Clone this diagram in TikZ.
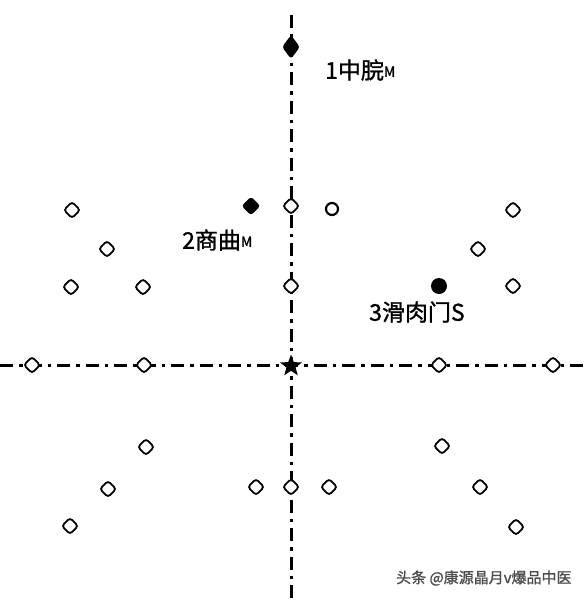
\documentclass[tikz,border=0pt]{standalone}
\usepackage{fontspec}
\newfontfamily\cjk[FakeBold=1.2]{Noto Sans CJK SC}
\usetikzlibrary{shapes.geometric}
\begin{document}
\begin{tikzpicture}[x=1pt,y=-1pt,
  axis/.style={line width=3pt,dash pattern=on 13pt off 6pt on 3.5pt off 6pt},
  hole/.style={diamond,draw,line width=1.8pt,fill=white,minimum size=17pt,inner sep=0pt,rounded corners=3pt},
  ring/.style={circle,draw,line width=2.2pt,fill=white,minimum size=12pt,inner sep=0pt},
  acu/.style={diamond,fill=black,minimum size=19pt,inner sep=0pt,rounded corners=3pt},
  acuc/.style={circle,fill=black,minimum size=16pt,inner sep=0pt},
  lbl/.style={font=\cjk\fontsize{23}{23}\selectfont,inner sep=0pt,anchor=west},
  sub/.style={},
  wm/.style={font=\cjk\fontsize{15}{15}\selectfont,text=black!70,inner sep=0pt,anchor=west}]
\useasboundingbox (0,0) rectangle (584,600);
\coordinate (vt) at (291,15);
\coordinate (vb) at (291,600);
\coordinate (hl) at (0,365);
\coordinate (hr) at (584,365);
\draw[axis] (vt) -- (vb);
\draw[axis] (hl) -- (hr);
% open diamonds
\foreach \n/\x/\y in {a/72/210,b/107/249,c/71/287,d/143/287,e/291/206,f/291/286,
  g/513/210,h/478/249,i/513/286,j/32/365,k/144/365,l/439/365,m/553/365,
  n/146/447,o/108/489,p/70/526,q/256/487,r/291/487,s/329/487,
  t/442/446,u/480/487,v/516/527}
  \node[hole] (h\n) at (\x,\y) {};
\node[ring] (rc) at (332,209) {};
% acupoints
\node[acu,minimum height=24pt,minimum width=18pt] (p1) at (291,47) {};
\node[acu] (p2) at (251,206) {};
\node[acuc] (p3) at (439,286) {};
\node[star,star points=5,star point ratio=2.4,fill=black,minimum size=23pt,inner sep=0pt] (ctr) at (291,366) {};
% labels
\node[lbl] (l1) at (325,70) {1中脘\raisebox{2pt}{\fontsize{14}{14}\selectfont M}};
\node[lbl] (l2) at (182,240) {2商曲\raisebox{2pt}{\fontsize{14}{14}\selectfont M}};
\node[lbl] (l3) at (369,312) {3滑肉门S};
\node[wm] (wmk) at (396,578) {头条 @康源晶月v爆品中医};
\end{tikzpicture}
\end{document}
